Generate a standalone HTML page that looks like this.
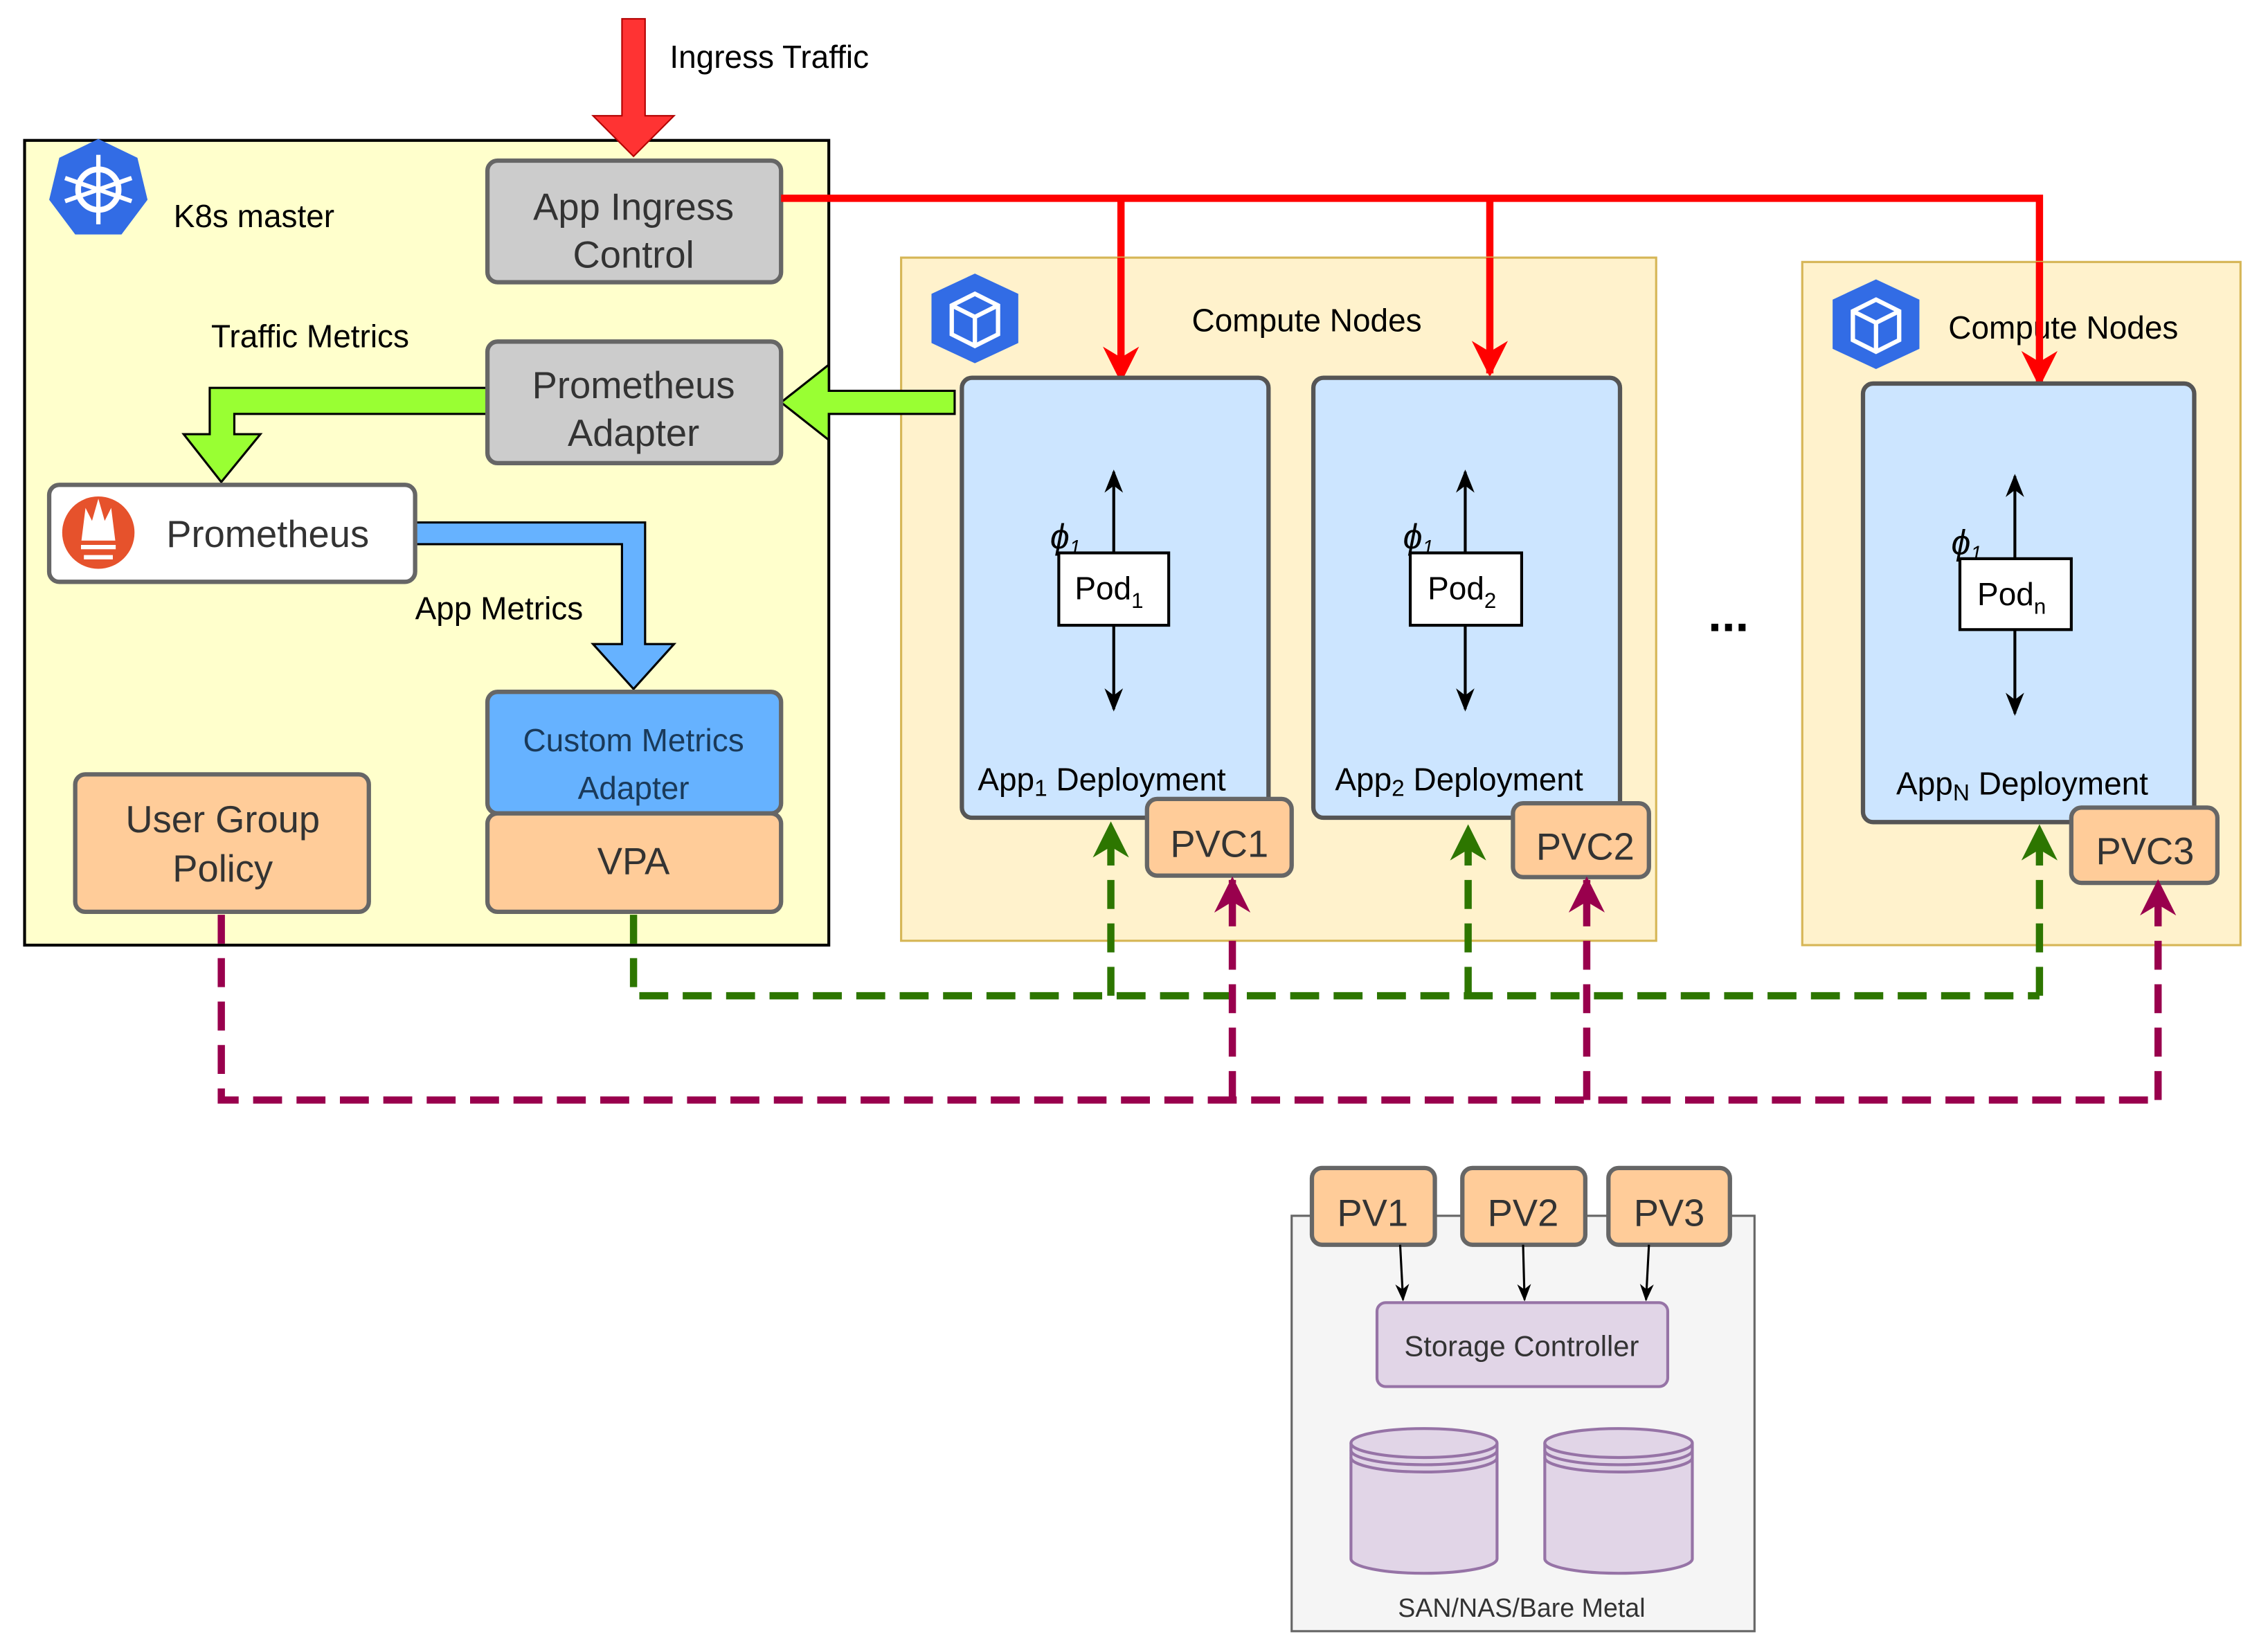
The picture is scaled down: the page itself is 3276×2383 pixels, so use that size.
<!DOCTYPE html>
<html><head><meta charset="utf-8"><style>html,body{margin:0;padding:0;background:#fff}svg{display:block}text{font-family:"Liberation Sans",sans-serif}</style></head>
<body>
<svg width="3276" height="2383" viewBox="0 0 1568 1140" preserveAspectRatio="none" xmlns="http://www.w3.org/2000/svg">
<defs>
<marker id="rh" viewBox="0 0 10 10" refX="9" refY="5" markerWidth="5" markerHeight="5" orient="auto"><path d="M0,0 L10,5 L0,10 L3,5 z" fill="#ff0000"/></marker>
<marker id="gh" viewBox="0 0 10 10" refX="9" refY="5" markerWidth="5" markerHeight="5" orient="auto"><path d="M0,0 L10,5 L0,10 L3,5 z" fill="#2d7600"/></marker>
<marker id="mh" viewBox="0 0 10 10" refX="9" refY="5" markerWidth="5" markerHeight="5" orient="auto"><path d="M0,0 L10,5 L0,10 L3,5 z" fill="#99004d"/></marker>
<marker id="bh" viewBox="0 0 10 10" refX="9" refY="5" markerWidth="8" markerHeight="8" orient="auto"><path d="M0,1 L10,5 L0,9 L3,5 z" fill="#000"/></marker>
</defs>
<!-- master -->
<rect x="17" y="97" width="556" height="556" fill="#ffffcc" stroke="#000" stroke-width="2"/>
<!-- ingress arrow -->
<path d="M430,13 H446 V80 H466 L438,108 L410,80 H430 Z" fill="#ff3333" stroke="#b20000" stroke-width="1"/>
<text x="463" y="47" font-size="22">Ingress Traffic</text>
<polygon points="68,96 95,109 102,138 84,162 52,162 34,138 41,109" fill="#326ce5"/>
<circle cx="68" cy="131" r="14" fill="none" stroke="#fff" stroke-width="4"/>
<g stroke="#fff" stroke-width="3"><line x1="68" y1="107" x2="68" y2="155"/><line x1="45" y1="123" x2="91" y2="139"/><line x1="91" y1="123" x2="45" y2="139"/></g>
<text x="120" y="157" font-size="22">K8s master</text>
<rect x="337" y="111" width="203" height="84" rx="7" fill="#cccccc" stroke="#666" stroke-width="3"/>
<text x="438" y="152" font-size="26" text-anchor="middle" fill="#333">App Ingress</text>
<text x="438" y="185" font-size="26" text-anchor="middle" fill="#333">Control</text>
<!-- red routes -->
<g fill="none" stroke="#ff0000" stroke-width="5">
<path d="M540,137 H1410 V262" marker-end="url(#rh)"/>
<path d="M775,137 V262" marker-end="url(#rh)"/>
<path d="M1030,137 V258" marker-end="url(#rh)"/>
</g>
<text x="146" y="240" font-size="22">Traffic Metrics</text>
<!-- compute nodes 1 -->
<rect x="623" y="178" width="522" height="472" fill="#fff2cc" stroke="#d6b656" stroke-width="1.5"/>
<polygon points="674,189 704,203 704,237 674,251 644,237 644,203" fill="#326ce5"/>
<path d="M674,203 L690,211 L690,231 L674,239 L658,231 L658,211 Z M658,211 L674,219 L690,211 M674,219 V239" fill="none" stroke="#fff" stroke-width="3"/>
<text x="824" y="229" font-size="22">Compute Nodes</text>
<rect x="1246" y="181" width="303" height="472" fill="#fff2cc" stroke="#d6b656" stroke-width="1.5"/>
<polygon points="1297,193 1327,207 1327,241 1297,255 1267,241 1267,207" fill="#326ce5"/>
<path d="M1297,207 L1313,215 L1313,235 L1297,243 L1281,235 L1281,215 Z M1281,215 L1297,223 L1313,215 M1297,223 V243" fill="none" stroke="#fff" stroke-width="3"/>
<text x="1347" y="234" font-size="22">Compute Nodes</text>
<g fill="none" stroke="#ff0000" stroke-width="5">
<path d="M775,178 V262" marker-end="url(#rh)"/><path d="M1030,178 V258" marker-end="url(#rh)"/><path d="M1410,181 V265" marker-end="url(#rh)"/>
</g>
<!-- deployments -->
<rect x="665" y="261" width="212" height="304" rx="7" fill="#cce5ff" stroke="#555" stroke-width="3"/>
<rect x="908" y="261" width="212" height="304" rx="7" fill="#cce5ff" stroke="#555" stroke-width="3"/>
<rect x="1288" y="265" width="229" height="303" rx="7" fill="#cce5ff" stroke="#555" stroke-width="3"/>
<g stroke="#000" stroke-width="2" fill="none">
<path d="M770,382 V326" marker-end="url(#bh)"/><path d="M770,432 V490" marker-end="url(#bh)"/>
<path d="M1013,382 V326" marker-end="url(#bh)"/><path d="M1013,432 V490" marker-end="url(#bh)"/>
<path d="M1393,386 V329" marker-end="url(#bh)"/><path d="M1393,435 V493" marker-end="url(#bh)"/>
</g>
<rect x="732" y="382" width="76" height="50" fill="#fff" stroke="#000" stroke-width="2"/>
<rect x="975" y="382" width="77" height="50" fill="#fff" stroke="#000" stroke-width="2"/>
<rect x="1355" y="386" width="77" height="49" fill="#fff" stroke="#000" stroke-width="2"/>
<text x="743" y="414" font-size="22">Pod<tspan font-size="15" dy="6">1</tspan></text>
<text x="987" y="414" font-size="22">Pod<tspan font-size="15" dy="6">2</tspan></text>
<text x="1367" y="418" font-size="22">Pod<tspan font-size="15" dy="6">n</tspan></text>
<text x="726" y="379" font-size="24" font-style="italic" font-family="Liberation Serif,serif">ϕ<tspan font-size="14" dy="4">1</tspan></text>
<text x="970" y="379" font-size="24" font-style="italic" font-family="Liberation Serif,serif">ϕ<tspan font-size="14" dy="4">1</tspan></text>
<text x="1349" y="383" font-size="24" font-style="italic" font-family="Liberation Serif,serif">ϕ<tspan font-size="14" dy="4">1</tspan></text>
<text x="676" y="546" font-size="22">App<tspan font-size="16" dy="4">1</tspan><tspan dy="-4"> Deployment</tspan></text>
<text x="923" y="546" font-size="22">App<tspan font-size="16" dy="4">2</tspan><tspan dy="-4"> Deployment</tspan></text>
<text x="1311" y="549" font-size="22">App<tspan font-size="16" dy="4">N</tspan><tspan dy="-4"> Deployment</tspan></text>
<g fill="#ffcc99" stroke="#666" stroke-width="3">
<rect x="793" y="552" width="100" height="53" rx="7"/>
<rect x="1046" y="555" width="94" height="51" rx="7"/>
<rect x="1432" y="558" width="101" height="52" rx="7"/>
</g>
<text x="843" y="592" font-size="26" text-anchor="middle" fill="#333">PVC1</text>
<text x="1096" y="594" font-size="26" text-anchor="middle" fill="#333">PVC2</text>
<text x="1483" y="597" font-size="26" text-anchor="middle" fill="#333">PVC3</text>
<text x="1195" y="436" font-size="34" text-anchor="middle" font-weight="bold">...</text>
<!-- prometheus adapter + green arrows -->
<path d="M660,270 H573 V252 L540,278 L573,304 V286 H660 Z" fill="#99ff33" stroke="#000" stroke-width="1.5"/>
<path d="M337,268 H145 V300 H127 L153,333 L180,300 H162 V286 H337 Z" fill="#99ff33" stroke="#000" stroke-width="1.5"/>
<rect x="337" y="236" width="203" height="84" rx="7" fill="#cccccc" stroke="#666" stroke-width="3"/>
<text x="438" y="275" font-size="26" text-anchor="middle" fill="#333">Prometheus</text>
<text x="438" y="308" font-size="26" text-anchor="middle" fill="#333">Adapter</text>
<!-- blue arrow -->
<path d="M285,361 H446 V445 H466 L438,476 L410,445 H430 V376 H285 Z" fill="#66b2ff" stroke="#000" stroke-width="1.5"/>
<rect x="34" y="335" width="253" height="67" rx="7" fill="#fff" stroke="#666" stroke-width="3"/>
<circle cx="68" cy="368" r="25" fill="#e6522c"/>
<path d="M56,378 H80 M58,385 H78 M60,356 L64,364 L68,350 L72,364 L76,356 L78,372 H58 Z" stroke="#fff" stroke-width="3" fill="#fff"/>
<text x="115" y="378" font-size="26" fill="#333">Prometheus</text>
<text x="287" y="428" font-size="22">App Metrics</text>
<rect x="337" y="478" width="203" height="84" rx="7" fill="#66b2ff" stroke="#666" stroke-width="3"/>
<text x="438" y="519" font-size="22" text-anchor="middle" fill="#1a3a5a">Custom Metrics</text>
<text x="438" y="552" font-size="22" text-anchor="middle" fill="#1a3a5a">Adapter</text>
<rect x="337" y="562" width="203" height="68" rx="7" fill="#ffcc99" stroke="#666" stroke-width="3"/>
<text x="438" y="604" font-size="26" text-anchor="middle" fill="#333">VPA</text>
<rect x="52" y="535" width="203" height="95" rx="7" fill="#ffcc99" stroke="#666" stroke-width="3"/>
<text x="154" y="575" font-size="26" text-anchor="middle" fill="#333">User Group</text>
<text x="154" y="609" font-size="26" text-anchor="middle" fill="#333">Policy</text>
<!-- dashed lines -->
<g fill="none" stroke="#2d7600" stroke-width="5" stroke-dasharray="20,10">
<path d="M438,632 V688 H1410"/>
<path d="M768,688 V570" marker-end="url(#gh)"/>
<path d="M1015,688 V572" marker-end="url(#gh)"/>
<path d="M1410,688 V572" marker-end="url(#gh)"/>
</g>
<g fill="none" stroke="#99004d" stroke-width="5" stroke-dasharray="20,10">
<path d="M153,632 V760 H1492"/>
<path d="M852,760 V608" marker-end="url(#mh)"/>
<path d="M1097,760 V608" marker-end="url(#mh)"/>
<path d="M1492,760 V610" marker-end="url(#mh)"/>
</g>
<!-- storage -->
<rect x="893" y="840" width="320" height="287" fill="#f5f5f5" stroke="#666" stroke-width="1.5"/>
<g fill="#ffcc99" stroke="#666" stroke-width="3">
<rect x="907" y="807" width="85" height="53" rx="7"/>
<rect x="1011" y="807" width="85" height="53" rx="7"/>
<rect x="1112" y="807" width="84" height="53" rx="7"/>
</g>
<text x="949" y="847" font-size="26" text-anchor="middle" fill="#333">PV1</text>
<text x="1053" y="847" font-size="26" text-anchor="middle" fill="#333">PV2</text>
<text x="1154" y="847" font-size="26" text-anchor="middle" fill="#333">PV3</text>
<g stroke="#000" stroke-width="1.5" fill="none">
<path d="M968,860 L970,898" marker-end="url(#bh)"/><path d="M1053,860 L1054,898" marker-end="url(#bh)"/><path d="M1140,860 L1138,898" marker-end="url(#bh)"/>
</g>
<rect x="952" y="900" width="201" height="58" rx="6" fill="#e1d5e7" stroke="#9673a6" stroke-width="2"/>
<text x="1052" y="937" font-size="20" text-anchor="middle" fill="#333">Storage Controller</text>
<g fill="#e1d5e7" stroke="#9673a6" stroke-width="2">
<path d="M934,997 V1077 A50.5,10 0 0 0 1035,1077 V997"/>
<ellipse cx="984.5" cy="997" rx="50.5" ry="10"/>
<path d="M934,1002 A50.5,10 0 0 0 1035,1002 M934,1007 A50.5,10 0 0 0 1035,1007" fill="none"/>
<path d="M1068,997 V1077 A51,10 0 0 0 1170,1077 V997"/>
<ellipse cx="1119" cy="997" rx="51" ry="10"/>
<path d="M1068,1002 A51,10 0 0 0 1170,1002 M1068,1007 A51,10 0 0 0 1170,1007" fill="none"/>
</g>
<text x="1052" y="1117" font-size="18" text-anchor="middle" fill="#333">SAN/NAS/Bare Metal</text>
</svg>
</body></html>
